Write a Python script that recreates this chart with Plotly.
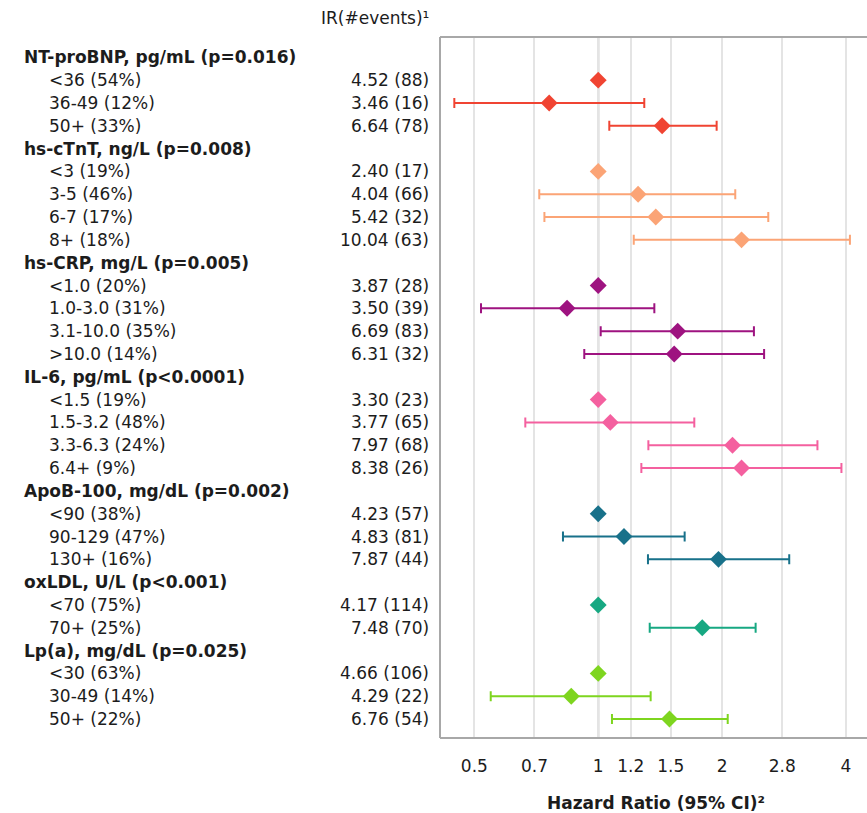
import plotly.graph_objects as go

# ---- data -------------------------------------------------------------
headers = [
    "NT-proBNP, pg/mL (p=0.016)",
    "hs-cTnT, ng/L (p=0.008)",
    "hs-CRP, mg/L (p=0.005)",
    "IL-6, pg/mL (p<0.0001)",
    "ApoB-100, mg/dL (p=0.002)",
    "oxLDL, U/L (p<0.001)",
    "Lp(a), mg/dL (p=0.025)",
]
group_colors = ["#F04432", "#FBA476", "#9E1380", "#F4609F", "#18718A", "#17A882", "#7ED51F"]

categories = [
    ["<36 (54%)", "36-49 (12%)", "50+ (33%)"],
    ["<3 (19%)", "3-5 (46%)", "6-7 (17%)", "8+ (18%)"],
    ["<1.0 (20%)", "1.0-3.0 (31%)", "3.1-10.0 (35%)", ">10.0 (14%)"],
    ["<1.5 (19%)", "1.5-3.2 (48%)", "3.3-6.3 (24%)", "6.4+ (9%)"],
    ["<90 (38%)", "90-129 (47%)", "130+ (16%)"],
    ["<70 (75%)", "70+ (25%)"],
    ["<30 (63%)", "30-49 (14%)", "50+ (22%)"],
]
ir_rate = [
    [4.52, 3.46, 6.64],
    [2.40, 4.04, 5.42, 10.04],
    [3.87, 3.50, 6.69, 6.31],
    [3.30, 3.77, 7.97, 8.38],
    [4.23, 4.83, 7.87],
    [4.17, 7.48],
    [4.66, 4.29, 6.76],
]
ir_events = [
    [88, 16, 78],
    [17, 66, 32, 63],
    [28, 39, 83, 32],
    [23, 65, 68, 26],
    [57, 81, 44],
    [114, 70],
    [106, 22, 54],
]
hazard_ratio = [
    [1.0, 0.76, 1.43],
    [1.0, 1.25, 1.38, 2.23],
    [1.0, 0.84, 1.56, 1.53],
    [1.0, 1.07, 2.12, 2.23],
    [1.0, 1.155, 1.96],
    [1.0, 1.79],
    [1.0, 0.86, 1.49],
]
ci_low = [
    [1.0, 0.447, 1.064],
    [1.0, 0.719, 0.740, 1.22],
    [1.0, 0.519, 1.014, 0.925],
    [1.0, 0.665, 1.324, 1.273],
    [1.0, 0.821, 1.321],
    [1.0, 1.334],
    [1.0, 0.548, 1.080],
]
ci_high = [
    [1.0, 1.294, 1.94],
    [1.0, 2.153, 2.59, 4.09],
    [1.0, 1.369, 2.39, 2.53],
    [1.0, 1.712, 3.41, 3.90],
    [1.0, 1.622, 2.912],
    [1.0, 2.413],
    [1.0, 1.341, 2.064],
]
tick_values = [0.5, 0.7, 1, 1.2, 1.5, 2, 2.8, 4]
tick_labels = ["0.5", "0.7", "1", "1.2", "1.5", "2", "2.8", "4"]

# ---- geometry (pixels) --------------------------------------------------
W, H = 867, 813
PLOT_L, PLOT_R, PLOT_T, PLOT_B = 440, 867, 37, 738
FONT = "DejaVu Sans"
FS = 17
FS_BOLD = 17
TEXT = "#1c1c1c"
FRAME = "#a8a8a8"


def px_to_paper_x(px):
    return (px - PLOT_L) / (PLOT_R - PLOT_L)


def px_to_paper_y(py):
    return (PLOT_B - py) / (PLOT_B - PLOT_T)


fig = go.Figure()
annotations = []

row = 0
for g, title in enumerate(headers):
    annotations.append(dict(
        text=f"<b>{title}</b>", xref="paper", yref="y",
        x=px_to_paper_x(22), y=row, xanchor="left", yanchor="middle",
        showarrow=False, font=dict(family=FONT, size=FS_BOLD, color=TEXT)))
    row += 1
    rows = list(range(row, row + len(categories[g])))
    for r, cat, rate, ev in zip(rows, categories[g], ir_rate[g], ir_events[g]):
        annotations.append(dict(
            text=cat, xref="paper", yref="y",
            x=px_to_paper_x(47), y=r, xanchor="left", yanchor="middle",
            showarrow=False, font=dict(family=FONT, size=FS, color=TEXT)))
        annotations.append(dict(
            text=f"{rate:.2f} ({ev})", xref="paper", yref="y",
            x=px_to_paper_x(431), y=r, xanchor="right", yanchor="middle",
            showarrow=False, font=dict(family=FONT, size=FS, color=TEXT)))
    hr = hazard_ratio[g]
    err_plus = [h - m for h, m in zip(ci_high[g], hr)]
    err_minus = [m - l for m, l in zip(hr, ci_low[g])]
    fig.add_trace(go.Scatter(
        x=hr, y=rows, mode="markers",
        marker=dict(symbol="diamond", size=13, color=group_colors[g]),
        error_x=dict(type="data", symmetric=False, array=err_plus,
                     arrayminus=err_minus, color=group_colors[g],
                     thickness=2, width=5),
        showlegend=False, hoverinfo="skip"))
    row += len(categories[g])

n_rows = row
annotations.append(dict(
    text="IR(#events)¹", xref="paper", yref="paper",
    x=px_to_paper_x(431), y=px_to_paper_y(18), xanchor="right", yanchor="middle",
    showarrow=False, font=dict(family=FONT, size=FS, color=TEXT)))
annotations.append(dict(
    text="<b>Hazard Ratio (95% CI)²</b>", xref="paper", yref="paper",
    x=px_to_paper_x(656), y=px_to_paper_y(803), xanchor="center", yanchor="middle",
    showarrow=False, font=dict(family=FONT, size=FS, color=TEXT)))

# reference line at HR = 1 and the open frame (left, top, bottom)
shapes = [
    dict(type="line", xref="x", yref="paper", x0=1, x1=1, y0=0, y1=1,
         line=dict(color="#9d9d9d", width=2), layer="between"),
    dict(type="line", xref="paper", yref="paper", x0=0, x1=0, y0=0, y1=1,
         line=dict(color=FRAME, width=2), layer="above"),
    dict(type="line", xref="paper", yref="paper", x0=0, x1=1, y0=1, y1=1,
         line=dict(color=FRAME, width=2), layer="above"),
    dict(type="line", xref="paper", yref="paper", x0=0, x1=1, y0=0, y1=0,
         line=dict(color=FRAME, width=2), layer="above"),
]

fig.update_layout(
    width=W, height=H,
    margin=dict(l=PLOT_L, r=W - PLOT_R, t=PLOT_T, b=H - PLOT_B, pad=0),
    paper_bgcolor="white", plot_bgcolor="white",
    font=dict(family=FONT, size=FS, color=TEXT),
    annotations=annotations, shapes=shapes,
    xaxis=dict(type="log", range=[-0.3845, 0.6532],
               tickvals=tick_values, ticktext=tick_labels,
               showgrid=True, gridcolor="#e4e4e4", gridwidth=1.5,
               zeroline=False, showline=False,
               ticks="", ticklabelstandoff=16,
               tickfont=dict(family=FONT, size=FS, color=TEXT)),
    yaxis=dict(range=[n_rows - 0.17, -0.89], showgrid=False, zeroline=False,
               showticklabels=False, ticks="", showline=False),
)

fig.write_html("out.html")
